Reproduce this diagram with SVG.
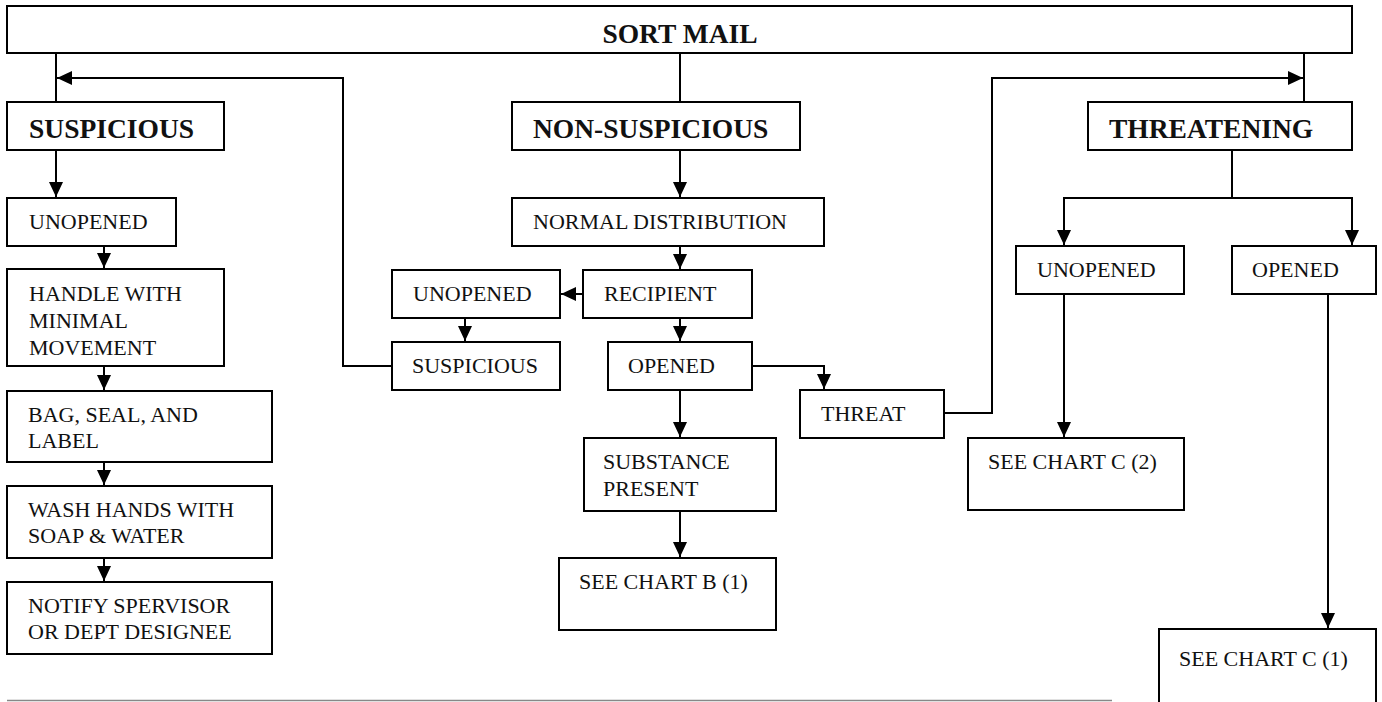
<svg xmlns="http://www.w3.org/2000/svg" width="1382" height="702" viewBox="0 0 1382 702">
<style>
.box{fill:#fff;stroke:#000;stroke-width:2}
.t{font-family:"Liberation Serif","Times New Roman",serif;font-size:22px;fill:#111}
.b{font-family:"Liberation Serif","Times New Roman",serif;font-size:27.5px;font-weight:bold;fill:#111}
.c{fill:none;stroke:#000;stroke-width:2}
.a{fill:none;stroke:#000;stroke-width:2;marker-end:url(#ah)}
</style>
<defs>
<marker id="ah" markerUnits="userSpaceOnUse" markerWidth="15" markerHeight="14" refX="15" refY="7" orient="auto">
<path d="M0,0 L15,7 L0,14 z" fill="#000"/>
</marker>
</defs>
<rect width="1382" height="702" fill="#fff"/>
<g id="connectors">
<path class="c" d="M56,53 V102"/>
<path class="c" d="M680,53 V102"/>
<path class="c" d="M1304,53 V102"/>
<path class="a" d="M392,366 H343 V78 H57"/>
<path class="a" d="M944,413 H992 V78 H1303"/>
<path class="a" d="M56,150 V197"/>
<path class="a" d="M104,246 V268"/>
<path class="a" d="M104,366 V390"/>
<path class="a" d="M104,462 V485"/>
<path class="a" d="M104,558 V581"/>
<path class="a" d="M680,150 V197"/>
<path class="a" d="M680,246 V269"/>
<path class="a" d="M583,294 H561"/>
<path class="a" d="M465,318 V341"/>
<path class="a" d="M680,318 V341"/>
<path class="a" d="M752,366 H824 V389"/>
<path class="a" d="M680,390 V437"/>
<path class="a" d="M680,511 V557"/>
<path class="c" d="M1232,150 V198"/>
<path class="a" d="M1232,198 H1064 V245"/>
<path class="a" d="M1232,198 H1352 V245"/>
<path class="a" d="M1064,294 V437"/>
<path class="a" d="M1328,294 V628"/>
</g>
<g id="sort-mail"><rect class="box" x="7" y="6" width="1345" height="47"/><text class="b" x="680" y="43" text-anchor="middle">SORT MAIL</text></g>
<g id="suspicious"><rect class="box" x="7" y="102" width="217" height="48"/><text class="b" x="29" y="138">SUSPICIOUS</text></g>
<g id="non-suspicious"><rect class="box" x="512" y="102" width="288" height="48"/><text class="b" x="533" y="138">NON-SUSPICIOUS</text></g>
<g id="threatening"><rect class="box" x="1088" y="102" width="264" height="48"/><text class="b" x="1109" y="138">THREATENING</text></g>
<g id="s-unopened"><rect class="box" x="7" y="198" width="169" height="48"/><text class="t" x="29" y="229">UNOPENED</text></g>
<g id="s-handle"><rect class="box" x="7" y="269" width="217" height="97"/><text class="t" x="29" y="301">HANDLE WITH</text><text class="t" x="29" y="328">MINIMAL</text><text class="t" x="29" y="355">MOVEMENT</text></g>
<g id="s-bag"><rect class="box" x="7" y="391" width="265" height="71"/><text class="t" x="28" y="422">BAG, SEAL, AND</text><text class="t" x="28" y="448">LABEL</text></g>
<g id="s-wash"><rect class="box" x="7" y="486" width="265" height="72"/><text class="t" x="28" y="517">WASH HANDS WITH</text><text class="t" x="28" y="543">SOAP &amp; WATER</text></g>
<g id="s-notify"><rect class="box" x="7" y="582" width="265" height="72"/><text class="t" x="28" y="613">NOTIFY SPERVISOR</text><text class="t" x="28" y="639">OR DEPT DESIGNEE</text></g>
<g id="normal-distribution"><rect class="box" x="512" y="198" width="312" height="48"/><text class="t" x="533" y="229">NORMAL DISTRIBUTION</text></g>
<g id="recipient"><rect class="box" x="583" y="270" width="169" height="48"/><text class="t" x="604" y="301">RECIPIENT</text></g>
<g id="n-unopened"><rect class="box" x="392" y="270" width="168" height="48"/><text class="t" x="413" y="301">UNOPENED</text></g>
<g id="n-suspicious"><rect class="box" x="392" y="342" width="168" height="48"/><text class="t" x="412" y="373">SUSPICIOUS</text></g>
<g id="n-opened"><rect class="box" x="608" y="342" width="144" height="48"/><text class="t" x="628" y="373">OPENED</text></g>
<g id="threat"><rect class="box" x="800" y="390" width="144" height="48"/><text class="t" x="821" y="421">THREAT</text></g>
<g id="substance"><rect class="box" x="584" y="438" width="192" height="73"/><text class="t" x="603" y="469">SUBSTANCE</text><text class="t" x="603" y="496">PRESENT</text></g>
<g id="chart-b1"><rect class="box" x="559" y="558" width="217" height="72"/><text class="t" x="579" y="589">SEE CHART B (1)</text></g>
<g id="t-unopened"><rect class="box" x="1016" y="246" width="168" height="48"/><text class="t" x="1037" y="277">UNOPENED</text></g>
<g id="t-opened"><rect class="box" x="1232" y="246" width="144" height="48"/><text class="t" x="1252" y="277">OPENED</text></g>
<g id="chart-c2"><rect class="box" x="968" y="438" width="216" height="72"/><text class="t" x="988" y="469">SEE CHART C (2)</text></g>
<g id="chart-c1"><rect class="box" x="1159" y="629" width="217" height="76"/><text class="t" x="1179" y="666">SEE CHART C (1)</text></g>
<line x1="7" y1="700.5" x2="1112" y2="700.5" stroke="#888" stroke-width="1.5"/>
</svg>
